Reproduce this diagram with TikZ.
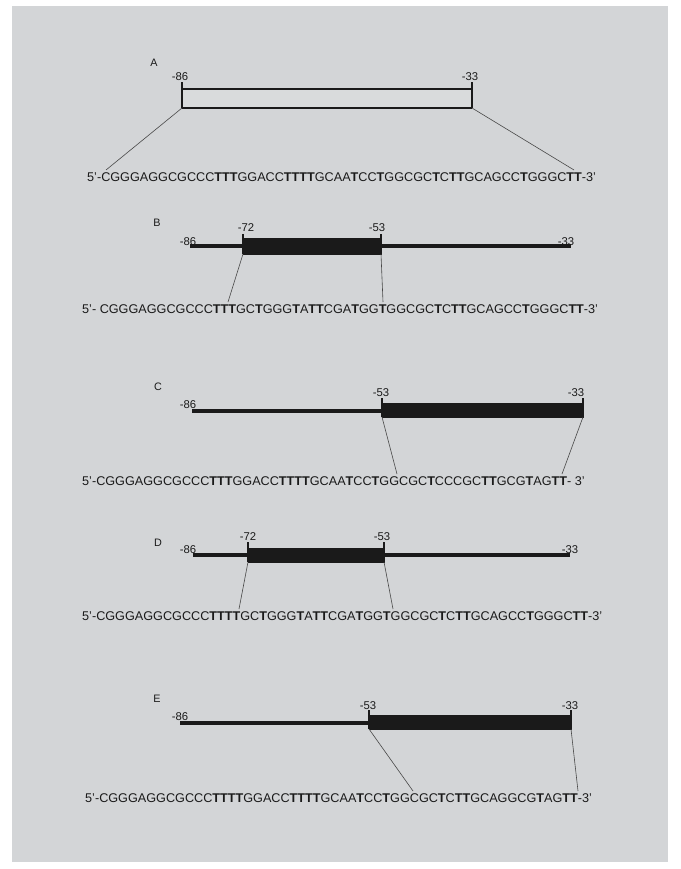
\documentclass[tikz,border=0pt]{standalone}
\usepackage{fontspec}
\setmainfont{Liberation Sans}
\definecolor{bg}{HTML}{D3D5D7}
\definecolor{boxfill}{HTML}{D9DBDC}
\definecolor{ink}{HTML}{1A1A1A}
\makeatletter
\def\seq@T{T}
\newcommand\dnaseq[1]{\@tfor\seq@c:=#1\do{\ifx\seq@c\seq@T\textbf{T}\else\seq@c\fi}}
\makeatother
\begin{document}
\begin{tikzpicture}[x=1pt,y=-1pt,
  seqtext/.style={anchor=west, inner sep=0pt, font=\fontsize{12.65}{14}\selectfont, text=ink},
  numlab/.style={inner sep=0pt, font=\fontsize{11.3}{13}\selectfont, text=ink},
  panlab/.style={inner sep=0pt, font=\fontsize{10.8}{12}\selectfont, text=ink},
  thinbar/.style={line width=3.5pt, draw=ink},
  blackbox/.style={fill=ink, draw=ink, line width=0.5pt},
  tickline/.style={line width=2pt, draw=ink},
  connector/.style={line width=0.6pt, draw=ink!80},
]
\useasboundingbox (0,0) rectangle (680,869);
\fill[white] (0,0) rectangle (680,869);
\fill[bg] (12,6) rectangle (668,862);

% ---------- Panel A ----------
\node[panlab] (labA) at (154,63) {A};
\node[numlab] (a86) at (180,77) {-86};
\node[numlab] (a33) at (470,77) {-33};
\coordinate (aTL) at (182,89);
\coordinate (aBR) at (472,108);
\coordinate (aBL) at (182,108);
\coordinate (aTR) at (472,89);
\fill[boxfill] (aTL) rectangle (aBR);
\draw[line width=1.4pt, draw=ink] (aTL) -- (aTR);
\draw[line width=1.4pt, draw=ink] (aBL) -- (aBR);
\draw[tickline] (aBL) -- ++(0,-26) coordinate (aTickL);
\draw[tickline] (aBR) -- ++(0,-26) coordinate (aTickR);
\node[seqtext] (seqA) at (87,177) {5'-\dnaseq{CGGGAGGCGCCCTTTGGACCTTTTGCAATCCTGGCGCTCTTGCAGCCTGGGCTT}-3'};
\coordinate (seqA1) at (106,170);
\coordinate (seqA2) at (574,170);
\draw[connector] (aBL) -- (seqA1);
\draw[connector] (aBR) -- (seqA2);

% ---------- Panel B ----------
\node[panlab] (labB) at (157,223) {B};
\node[numlab] (b86) at (188,242) {-86};
\node[numlab] (b72) at (246,228) {-72};
\node[numlab] (b53) at (377,228) {-53};
\node[numlab] (b33) at (566,242) {-33};
\coordinate (bL) at (190,246);
\coordinate (bR) at (571,246);
\draw[thinbar] (bL) -- (bR);
\coordinate (bTL) at (243,238);
\coordinate (bBR) at (381,254);
\coordinate (bBL) at (243,254);
\fill[blackbox] (bTL) rectangle (bBR);
\draw[tickline] (bBL) -- ++(0,-20);
\draw[tickline] (bBR) -- ++(0,-20);
\node[seqtext] (seqB) at (82,309) {5'- \dnaseq{CGGGAGGCGCCCTTTGCTGGGTATTCGATGGTGGCGCTCTTGCAGCCTGGGCTT}-3'};
\coordinate (seqB1) at (228,302);
\coordinate (seqB2) at (383,302);
\draw[connector] (bBL) -- (seqB1);
\draw[connector] (bBR) -- (seqB2);

% ---------- Panel C ----------
\node[panlab] (labC) at (158,387) {C};
\node[numlab] (c86) at (188,405) {-86};
\node[numlab] (c53) at (381,393) {-53};
\node[numlab] (c33) at (576,393) {-33};
\coordinate (cL) at (192,411);
\coordinate (cR) at (382,411);
\draw[thinbar] (cL) -- (cR);
\coordinate (cTL) at (382,403);
\coordinate (cBR) at (583,417);
\coordinate (cBL) at (382,417);
\fill[blackbox] (cTL) rectangle (cBR);
\draw[tickline] (cBL) -- ++(0,-19);
\draw[tickline] (cBR) -- ++(0,-19);
\node[seqtext] (seqC) at (82,481) {5'-\dnaseq{CGGGAGGCGCCCTTTGGACCTTTTGCAATCCTGGCGCTCCCGCTTGCGTAGTT}- 3'};
\coordinate (seqC1) at (397,474);
\coordinate (seqC2) at (562,474);
\draw[connector] (cBL) -- (seqC1);
\draw[connector] (cBR) -- (seqC2);

% ---------- Panel D ----------
\node[panlab] (labD) at (158,543) {D};
\node[numlab] (d86) at (188,550) {-86};
\node[numlab] (d72) at (248,537) {-72};
\node[numlab] (d53) at (382,537) {-53};
\node[numlab] (d33) at (570,550) {-33};
\coordinate (dL) at (193,555);
\coordinate (dR) at (570,555);
\draw[thinbar] (dL) -- (dR);
\coordinate (dTL) at (248,548);
\coordinate (dBR) at (384,562);
\coordinate (dBL) at (248,562);
\fill[blackbox] (dTL) rectangle (dBR);
\draw[tickline] (dBL) -- ++(0,-20);
\draw[tickline] (dBR) -- ++(0,-20);
\node[seqtext] (seqD) at (82,616) {5'-\dnaseq{CGGGAGGCGCCCTTTTGCTGGGTATTCGATGGTGGCGCTCTTGCAGCCTGGGCTT}-3'};
\coordinate (seqD1) at (239,609);
\coordinate (seqD2) at (393,609);
\draw[connector] (dBL) -- (seqD1);
\draw[connector] (dBR) -- (seqD2);

% ---------- Panel E ----------
\node[panlab] (labE) at (157,699) {E};
\node[numlab] (e86) at (180,717) {-86};
\node[numlab] (e53) at (368,706) {-53};
\node[numlab] (e33) at (570,706) {-33};
\coordinate (eL) at (180,723);
\coordinate (eR) at (369,723);
\draw[thinbar] (eL) -- (eR);
\coordinate (eTL) at (369,715);
\coordinate (eBR) at (571,729);
\coordinate (eBL) at (369,729);
\fill[blackbox] (eTL) rectangle (eBR);
\draw[tickline] (eBL) -- ++(0,-19);
\draw[tickline] (eBR) -- ++(0,-19);
\node[seqtext] (seqE) at (85,798) {5'-\dnaseq{CGGGAGGCGCCCTTTTGGACCTTTTGCAATCCTGGCGCTCTTGCAGGCGTAGTT}-3'};
\coordinate (seqE1) at (413,791);
\coordinate (seqE2) at (578,791);
\draw[connector] (eBL) -- (seqE1);
\draw[connector] (eBR) -- (seqE2);
\end{tikzpicture}
\end{document}
